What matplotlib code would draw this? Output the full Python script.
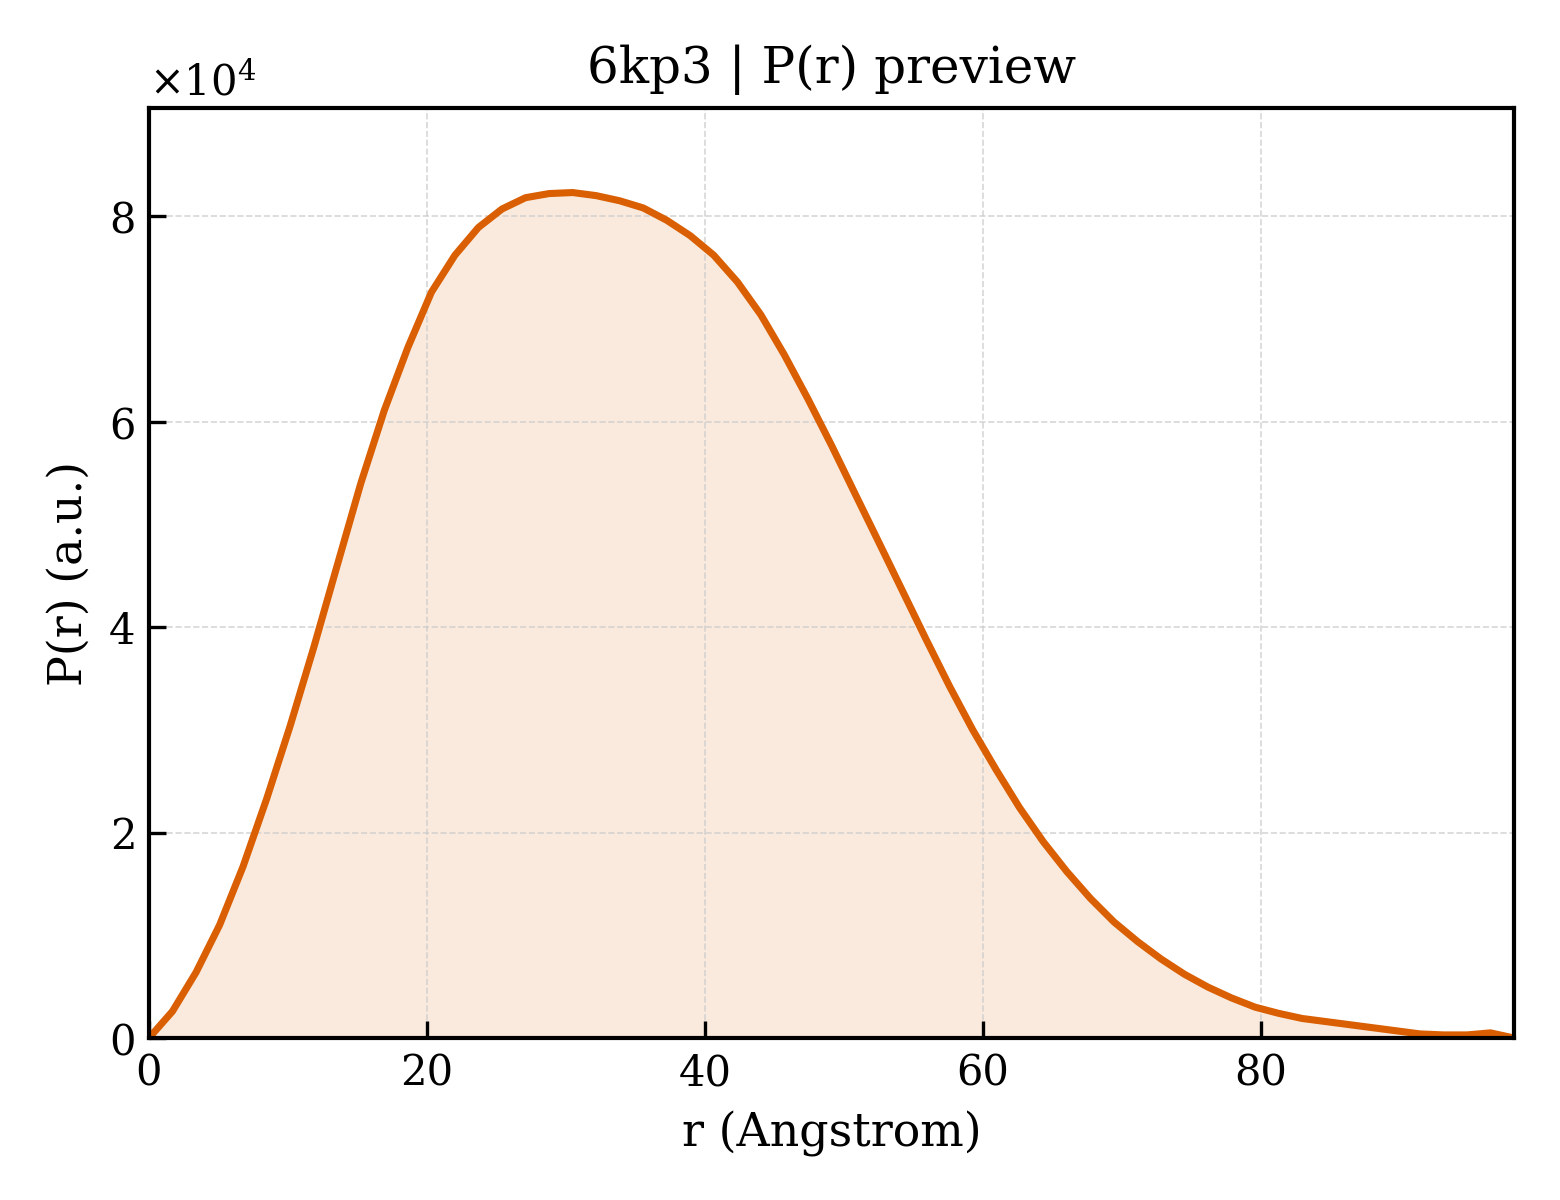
import numpy as np
import matplotlib
matplotlib.use("Agg")
import matplotlib.pyplot as plt

# r grid (Angstrom) and P(r)
r = [0.00, 1.69, 3.39, 5.08, 6.77, 8.47, 10.16, 11.85, 13.54, 15.24,
     16.93, 18.62, 20.32, 22.01, 23.70, 25.40, 27.09, 28.78, 30.48, 32.17,
     33.86, 35.56, 37.25, 38.94, 40.63, 42.33, 44.02, 45.71, 47.41, 49.10,
     50.79, 52.49, 54.18, 55.87, 57.57, 59.26, 60.95, 62.64, 64.34, 66.03,
     67.72, 69.42, 71.11, 72.80, 74.50, 76.19, 77.88, 79.58, 81.27, 82.96,
     84.66, 86.35, 88.04, 89.74, 91.43, 93.12, 94.82, 96.51, 98.20]
pr = [0, 2600, 6400, 11000, 16700, 23300, 30400, 38000, 46000, 54000,
      61100, 67200, 72600, 76200, 78900, 80700, 81800, 82200, 82300, 82000,
      81500, 80800, 79600, 78100, 76200, 73600, 70400, 66500, 62200, 57700,
      53000, 48300, 43600, 38900, 34300, 30000, 26100, 22400, 19100, 16200,
      13600, 11300, 9400, 7700, 6200, 4950, 3900, 3000, 2400, 1900,
      1600, 1300, 1000, 700, 400, 300, 300, 500, 0]

title = '6kp3 | P(r) preview'
color = '#d95f02'

plt.rcParams['font.family'] = 'DejaVu Serif'
plt.rcParams['mathtext.fontset'] = 'dejavuserif'

fig, ax = plt.subplots(figsize=(5.2, 4.0), dpi=300)
fig.subplots_adjust(left=0.0955, right=0.9705, top=0.91, bottom=0.135)

r = np.array(r)
pr = np.array(pr, dtype=float)
ax.fill_between(r, pr, 0, color=color, alpha=0.13, linewidth=0)
ax.plot(r, pr, color=color, lw=1.7)

ax.set_xlim(0, r[-1])
ax.set_ylim(0, pr.max() * 1.1)
ax.set_xlabel('r (Angstrom)', fontsize=11)
ax.set_ylabel('P(r) (a.u.)', fontsize=11)
ax.set_title(title, fontsize=12)
ax.ticklabel_format(axis='y', style='sci', scilimits=(0, 0), useMathText=True)
ax.tick_params(direction='in', labelsize=10, length=4, width=0.8)
ax.grid(True, linestyle='--', linewidth=0.4, color='#cccccc', alpha=0.8)
for s in ax.spines.values():
    s.set_linewidth(1.0)

plt.savefig('out.png', dpi=300)
plt.close()
